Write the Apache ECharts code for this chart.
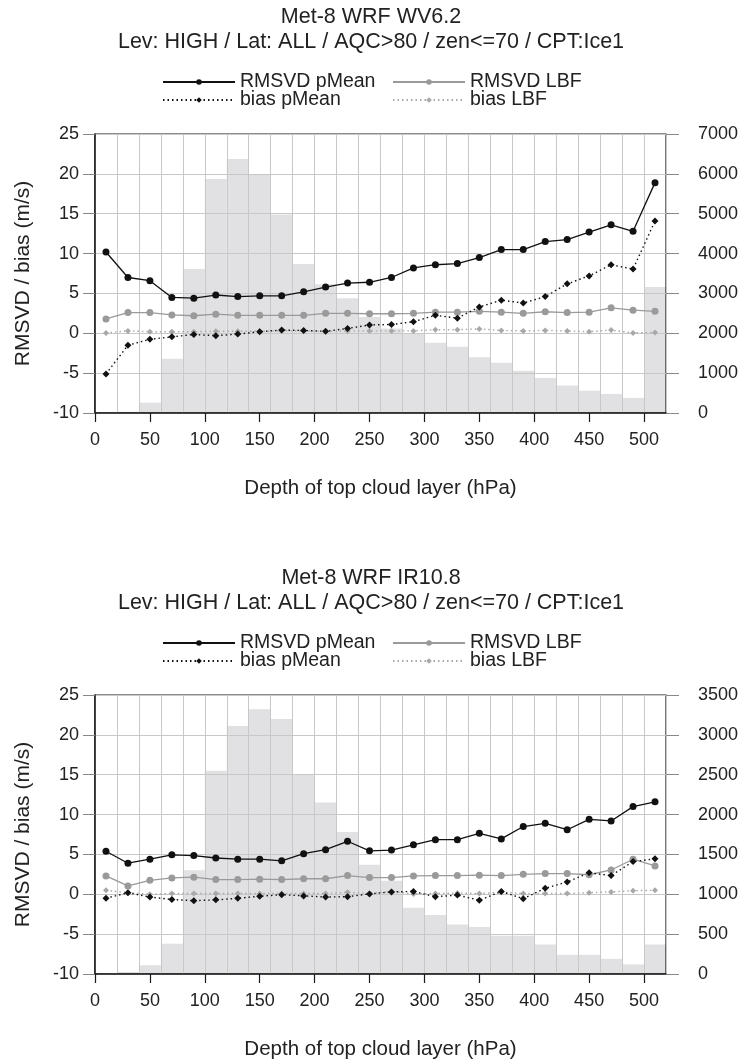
<!DOCTYPE html>
<html>
<head>
<meta charset="utf-8">
<title>Met-8 WRF RMSVD / bias</title>
<script src="https://cdn.jsdelivr.net/npm/echarts@6/dist/echarts.min.js"></script>
<style>
  html, body { margin: 0; padding: 0; background: #fff; }
  #chart { width: 742px; height: 1063px; }
</style>
</head>
<body>
<div id="chart"></div>
<script>
// bin centres of the 20 hPa depth classes (0-520 hPa)
const binCenters = [10, 30, 50, 70, 90, 110, 130, 150, 170, 190, 210, 230, 250,
                    270, 290, 310, 330, 350, 370, 390, 410, 430, 450, 470, 490, 510];
const xTicks = [0, 50, 100, 150, 200, 250, 300, 350, 400, 450, 500];
const subtitle = 'Lev: HIGH / Lat: ALL / AQC>80 / zen<=70 / CPT:Ice1';
const legendNames = ['RMSVD pMean', 'bias pMean', 'RMSVD LBF', 'bias LBF'];

// WV6.2 panel
const wvRmsPMean  = [10.2, 7.0, 6.6, 4.5, 4.4, 4.8, 4.6, 4.7, 4.7, 5.2, 5.8, 6.3, 6.4,
                     7.0, 8.2, 8.6, 8.75, 9.5, 10.5, 10.5, 11.5, 11.75, 12.7, 13.6, 12.8, 18.9];
const wvRmsLBF    = [1.8, 2.6, 2.6, 2.3, 2.2, 2.4, 2.25, 2.25, 2.25, 2.25, 2.5, 2.5, 2.45,
                     2.45, 2.5, 2.65, 2.65, 2.75, 2.65, 2.5, 2.7, 2.6, 2.65, 3.2, 2.9, 2.75];
const wvBiasPMean = [-5.1, -1.5, -0.75, -0.45, -0.15, -0.3, -0.1, 0.2, 0.4, 0.35, 0.25, 0.6, 1.05,
                     1.1, 1.45, 2.25, 1.9, 3.3, 4.15, 3.8, 4.6, 6.2, 7.2, 8.6, 8.05, 14.1];
const wvBiasLBF   = [0.05, 0.3, 0.2, 0.2, 0.2, 0.25, 0.25, 0.25, 0.3, 0.3, 0.25, 0.3, 0.3,
                     0.3, 0.3, 0.45, 0.45, 0.55, 0.35, 0.3, 0.35, 0.3, 0.2, 0.4, 0.05, 0.1];
const wvCount     = [0, 30, 260, 1360, 3610, 5870, 6370, 5970, 4980, 3740, 3230, 2880, 2410,
                     2120, 2000, 1760, 1660, 1400, 1260, 1060, 880, 690, 560, 480, 380, 3160];

// IR10.8 panel
const irRmsPMean  = [5.4, 3.9, 4.4, 4.95, 4.85, 4.55, 4.4, 4.4, 4.2, 5.1, 5.6, 6.65, 5.45,
                     5.55, 6.2, 6.85, 6.85, 7.65, 6.95, 8.5, 8.9, 8.1, 9.4, 9.2, 11.0, 11.6];
const irRmsLBF    = [2.3, 1.05, 1.75, 2.05, 2.15, 1.85, 1.85, 1.9, 1.85, 1.95, 1.95, 2.35, 2.1,
                     2.1, 2.3, 2.35, 2.35, 2.4, 2.35, 2.5, 2.6, 2.6, 2.45, 3.05, 4.4, 3.55];
const irBiasPMean = [-0.5, 0.2, -0.35, -0.65, -0.8, -0.7, -0.5, -0.25, -0.05, -0.2, -0.35, -0.3, 0.05,
                     0.3, 0.35, -0.3, -0.1, -0.75, 0.35, -0.55, 0.75, 1.55, 2.7, 2.35, 4.1, 4.45];
const irBiasLBF   = [0.5, 0.2, 0.0, 0.1, 0.1, 0.1, 0.1, 0.1, 0.1, 0.1, 0.1, 0.25, 0.1,
                     0.35, 0.05, 0.1, 0.15, 0.1, 0.25, 0.1, 0.1, 0.1, 0.2, 0.3, 0.45, 0.5];
const irCount     = [0, 25, 110, 380, 1300, 2550, 3110, 3320, 3200, 2510, 2150, 1780, 1370,
                     1170, 830, 740, 620, 590, 480, 480, 370, 240, 240, 190, 120, 370];

const panels = [
  { title: 'Met-8 WRF WV6.2', rmsP: wvRmsPMean, rmsL: wvRmsLBF, biasP: wvBiasPMean, biasL: wvBiasLBF,
    count: wvCount, countMax: 7000, countStep: 1000 },
  { title: 'Met-8 WRF IR10.8', rmsP: irRmsPMean, rmsL: irRmsLBF, biasP: irBiasPMean, biasL: irBiasLBF,
    count: irCount, countMax: 3500, countStep: 500 }
];

const FONT = "'Liberation Sans', Arial, sans-serif";
const INK = '#1a1a1a';
const GRID_GREY = '#c8c8c8';
const DOTS = [1.5, 3];
const binLabels = binCenters.map(c => (c - 10) + '-' + (c + 10));
const pairs = arr => binCenters.map((x, k) => [x, arr[k]]);

const styles = {
  'RMSVD pMean': { symbol: 'circle', size: 7, color: '#111', type: 'solid', width: 1.3 },
  'bias pMean':  { symbol: 'diamond', size: 7, color: '#111', type: DOTS, width: 1.4 },
  'RMSVD LBF':   { symbol: 'circle', size: 7, color: '#9a9a9a', type: 'solid', width: 1.3 },
  'bias LBF':    { symbol: 'diamond', size: 6, color: '#a8a8a8', type: DOTS, width: 1.4 }
};

const option = {
  animation: false,
  backgroundColor: '#fff',
  textStyle: { fontFamily: FONT },
  title: [], legend: [], grid: [], xAxis: [], yAxis: [], series: []
};

const titleStyle = { fontSize: 21.5, fontWeight: 'normal', color: '#222', lineHeight: 24, fontFamily: FONT };

panels.forEach((p, i) => {
  const off = i * 561;

  option.title.push({ text: p.title, left: 'center', top: 5 + off, padding: 0, textStyle: titleStyle });
  option.title.push({ text: subtitle, left: 'center', top: 30 + off, padding: 0, textStyle: titleStyle });

  // two columns x two rows of legend entries
  legendNames.forEach((name, k) => {
    option.legend.push({
      data: [name],
      left: k < 2 ? 162 : 392,
      top: (k % 2 === 0 ? 72 : 90) + off,
      padding: 0, itemGap: 0,
      itemWidth: 72, itemHeight: 7,
      selectedMode: false,
      textStyle: { fontSize: 19.5, color: '#222', fontFamily: FONT }
    });
  });

  option.grid.push({
    left: 95, width: 571, top: 134 + off, height: 279,
    show: true, borderColor: INK, borderWidth: 1.2, backgroundColor: 'transparent'
  });

  // labelled depth axis
  option.xAxis.push({
    type: 'value', gridIndex: i, min: 0, max: 520, position: 'bottom',
    name: 'Depth of top cloud layer (hPa)', nameLocation: 'middle', nameGap: 65,
    nameTextStyle: { fontSize: 20.5, color: '#222', fontFamily: FONT },
    axisLine: { onZero: false, lineStyle: { color: INK, width: 1.5 } },
    axisTick: { customValues: xTicks, length: 9, lineStyle: { color: INK, width: 1.2 } },
    axisLabel: { customValues: xTicks, margin: 18, fontSize: 18, color: '#222', fontFamily: FONT },
    splitLine: { show: false }
  });
  // 20 hPa grid lines
  option.xAxis.push({
    type: 'value', gridIndex: i, min: 0, max: 520, interval: 20,
    axisLine: { show: false, onZero: false }, axisTick: { show: false }, axisLabel: { show: false },
    splitLine: { show: true, lineStyle: { color: GRID_GREY, width: 1 } }
  });
  // histogram bins
  option.xAxis.push({
    type: 'category', gridIndex: i, data: binLabels, show: false, boundaryGap: true
  });

  option.yAxis.push({
    type: 'value', gridIndex: i, min: -10, max: 25, interval: 5,
    name: 'RMSVD / bias (m/s)', nameLocation: 'middle', nameGap: 61, nameRotate: 90,
    nameTextStyle: { fontSize: 21, color: '#222', fontFamily: FONT },
    axisLine: { show: true, onZero: false, lineStyle: { color: INK, width: 1.5 } },
    axisTick: { show: true, length: 12, lineStyle: { color: '#888' } },
    axisLabel: { margin: 16, fontSize: 18, color: '#222', fontFamily: FONT },
    splitLine: { show: true, lineStyle: { color: GRID_GREY, width: 1 } }
  });
  option.yAxis.push({
    type: 'value', gridIndex: i, position: 'right', min: 0, max: p.countMax, interval: p.countStep,
    axisLine: { show: false, onZero: false },
    axisTick: { show: true, length: 13, lineStyle: { color: '#888' } },
    axisLabel: { margin: 32, fontSize: 18, color: '#222', fontFamily: FONT, formatter: v => String(v) },
    splitLine: { show: false }
  });

  option.series.push({
    type: 'bar', name: 'count', xAxisIndex: 3 * i + 2, yAxisIndex: 2 * i + 1,
    data: p.count, barWidth: '100%', barCategoryGap: '0%',
    itemStyle: { color: '#e1e1e3' }, z: -1, silent: true
  });

  const lines = { 'RMSVD pMean': p.rmsP, 'bias pMean': p.biasP, 'RMSVD LBF': p.rmsL, 'bias LBF': p.biasL };
  ['RMSVD LBF', 'bias LBF', 'bias pMean', 'RMSVD pMean'].forEach(name => {
    const s = styles[name];
    option.series.push({
      type: 'line', name: name, xAxisIndex: 3 * i, yAxisIndex: 2 * i,
      data: pairs(lines[name]),
      symbol: s.symbol, symbolSize: s.size, showAllSymbol: true,
      lineStyle: { color: s.color, width: s.width, type: s.type },
      itemStyle: { color: s.color },
      emphasis: { disabled: true }
    });
  });
});

const chart = echarts.init(document.getElementById('chart'), null, { renderer: 'canvas' });
chart.setOption(option);
</script>
</body>
</html>
